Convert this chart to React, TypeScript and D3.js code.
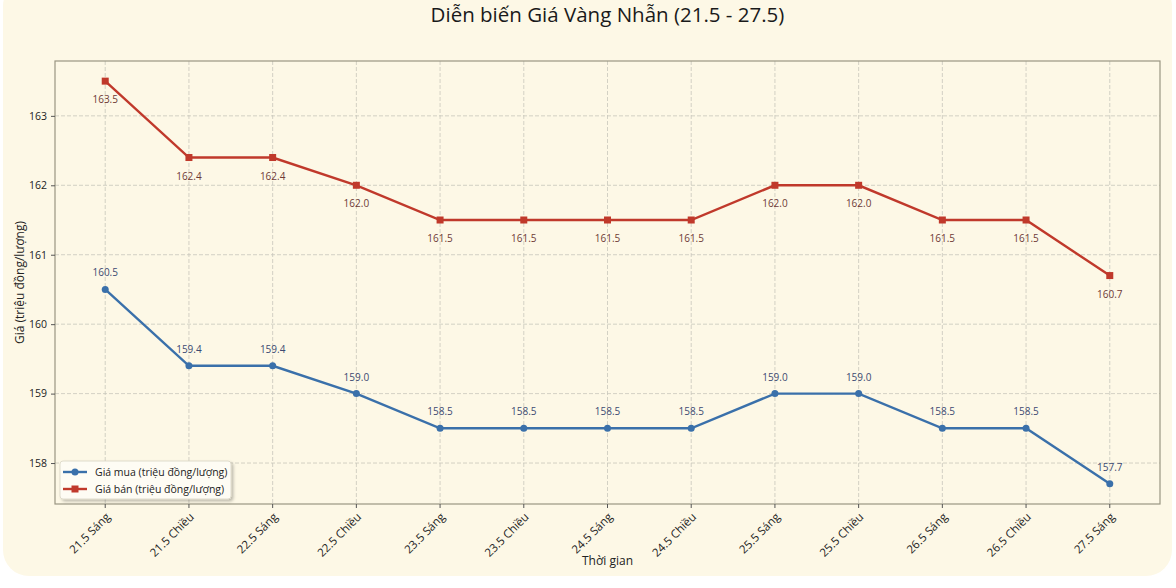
import { useRef, useEffect } from "react";
import * as d3 from "d3";

const categories = [
  "21.5 Sáng", "21.5 Chiều", "22.5 Sáng", "22.5 Chiều", "23.5 Sáng", "23.5 Chiều",
  "24.5 Sáng", "24.5 Chiều", "25.5 Sáng", "25.5 Chiều", "26.5 Sáng", "26.5 Chiều", "27.5 Sáng",
];
const buyPrices = [160.5, 159.4, 159.4, 159.0, 158.5, 158.5, 158.5, 158.5, 159.0, 159.0, 158.5, 158.5, 157.7];
const sellPrices = [163.5, 162.4, 162.4, 162.0, 161.5, 161.5, 161.5, 161.5, 162.0, 162.0, 161.5, 161.5, 160.7];
const yTicks = [158, 159, 160, 161, 162, 163];

const W = 1176;
const H = 588;
const FONT = "'Open Sans', 'Noto Sans', sans-serif";
const BLUE = "#3a70aa";
const RED = "#c0392b";

export default function App() {
  const svgRef = useRef<SVGSVGElement>(null);

  useEffect(() => {
    if (!svgRef.current) return;
    const svg = d3.select(svgRef.current);
    svg.selectAll("*").remove();

    const margin = { top: 61, right: 16, bottom: 84, left: 55 };
    const width = W - margin.left - margin.right;
    const height = H - margin.top - margin.bottom;

    // card background
    svg.append("rect").attr("width", W).attr("height", H).attr("fill", "#ffffff");
    svg.append("rect").attr("x", 3).attr("y", -20).attr("width", 1169).attr("height", 596)
      .attr("rx", 26).attr("fill", "#fdf8e6");

    const defs = svg.append("defs");
    const f = defs.append("filter").attr("id", "shadow").attr("x", "-10%").attr("y", "-20%").attr("width", "130%").attr("height", "160%");
    f.append("feDropShadow").attr("dx", 2).attr("dy", 2).attr("stdDeviation", 1.5).attr("flood-color", "#000").attr("flood-opacity", 0.25);

    const g = svg.append("g").attr("transform", `translate(${margin.left},${margin.top})`);

    const all = [...buyPrices, ...sellPrices];
    const lo = d3.min(all)!, hi = d3.max(all)!;
    const pad = (hi - lo) * 0.05;
    const y = d3.scaleLinear().domain([lo - pad, hi + pad]).range([height, 0]);
    const xl = d3.scaleLinear().domain([-0.6, categories.length - 1 + 0.6]).range([0, width]);
    const x = (i: number) => xl(i);

    // grid
    g.append("g").selectAll("line").data(yTicks).enter().append("line")
      .attr("x1", 0).attr("x2", width).attr("y1", d => y(d)).attr("y2", d => y(d))
      .attr("stroke", "#c8c6bb").attr("stroke-width", 0.8).attr("stroke-dasharray", "4,2");
    g.append("g").selectAll("line").data(categories).enter().append("line")
      .attr("y1", 0).attr("y2", height).attr("x1", (_, i) => x(i)).attr("x2", (_, i) => x(i))
      .attr("stroke", "#c8c6bb").attr("stroke-width", 0.8).attr("stroke-dasharray", "4,2");

    // frame
    g.append("rect").attr("width", width).attr("height", height)
      .attr("fill", "none").attr("stroke", "#9a9682").attr("stroke-width", 1.2);

    // y axis
    const ya = g.append("g").call(d3.axisLeft(y).tickValues(yTicks).tickSize(4).tickPadding(4).tickFormat(d3.format("d")));
    ya.select(".domain").remove();
    ya.selectAll("line").attr("stroke", "#555");
    ya.selectAll("text").attr("fill", "#222").attr("font-size", 10.5).attr("font-family", FONT);

    // x axis
    const xa = g.append("g").attr("transform", `translate(0,${height})`);
    categories.forEach((c, i) => {
      xa.append("line").attr("x1", x(i)).attr("x2", x(i)).attr("y1", 0).attr("y2", 4).attr("stroke", "#555");
      xa.append("text")
        .attr("transform", `translate(${x(i)},${8}) rotate(-45)`)
        .attr("text-anchor", "end").attr("dy", "0.7em")
        .attr("font-size", 11.5).attr("font-family", FONT).attr("fill", "#222")
        .text(c);
    });

    // lines
    const line = d3.line<number>().x((_, i) => x(i)).y(d => y(d));
    g.append("path").datum(buyPrices).attr("d", line).attr("fill", "none").attr("stroke", BLUE).attr("stroke-width", 2.4);
    g.append("path").datum(sellPrices).attr("d", line).attr("fill", "none").attr("stroke", RED).attr("stroke-width", 2.4);

    g.selectAll(".buy-pt").data(buyPrices).enter().append("circle")
      .attr("cx", (_, i) => x(i)).attr("cy", d => y(d)).attr("r", 3.5).attr("fill", BLUE);
    g.selectAll(".sell-pt").data(sellPrices).enter().append("rect")
      .attr("x", (_, i) => x(i) - 3.5).attr("y", d => y(d) - 3.5).attr("width", 7).attr("height", 7).attr("fill", RED);

    // value labels
    g.selectAll(".buy-lbl").data(buyPrices).enter().append("text")
      .attr("x", (_, i) => x(i)).attr("y", d => y(d) - 13)
      .attr("text-anchor", "middle").attr("font-size", 10).attr("font-family", FONT).attr("fill", "#3c4a72")
      .text(d => d.toFixed(1));
    g.selectAll(".sell-lbl").data(sellPrices).enter().append("text")
      .attr("x", (_, i) => x(i)).attr("y", d => y(d) + 22)
      .attr("text-anchor", "middle").attr("font-size", 10).attr("font-family", FONT).attr("fill", "#6e3a36")
      .text(d => d.toFixed(1));

    // legend
    const lg = g.append("g").attr("transform", `translate(5,${height - 43})`);
    lg.append("rect").attr("width", 171).attr("height", 38).attr("rx", 3)
      .attr("fill", "#fefcf4").attr("stroke", "#d8d4c4").attr("stroke-width", 0.8).attr("filter", "url(#shadow)");
    [{ c: BLUE, t: "Giá mua (triệu đồng/lượng)", m: "circle" }, { c: RED, t: "Giá bán (triệu đồng/lượng)", m: "square" }]
      .forEach((it, i) => {
        const row = lg.append("g").attr("transform", `translate(0,${11 + i * 17})`);
        row.append("line").attr("x1", 3).attr("x2", 27).attr("stroke", it.c).attr("stroke-width", 2.4);
        if (it.m === "circle") row.append("circle").attr("cx", 15).attr("r", 3.5).attr("fill", it.c);
        else row.append("rect").attr("x", 11.5).attr("y", -3.5).attr("width", 7).attr("height", 7).attr("fill", it.c);
        row.append("text").attr("x", 35).attr("dy", "0.35em").attr("font-size", 10.5).attr("font-family", FONT)
          .attr("fill", "#222").text(it.t);
      });

    // titles
    svg.append("text").attr("x", margin.left + width / 2).attr("y", 22).attr("text-anchor", "middle")
      .attr("font-size", 20.5).attr("font-family", FONT).attr("fill", "#1a1a1a").text("Diễn biến Giá Vàng Nhẫn (21.5 - 27.5)");
    svg.append("text").attr("x", margin.left + width / 2).attr("y", 565).attr("text-anchor", "middle")
      .attr("font-size", 12).attr("font-family", FONT).attr("fill", "#222").text("Thời gian");
    svg.append("text").attr("transform", `translate(24,${margin.top + height / 2}) rotate(-90)`).attr("text-anchor", "middle")
      .attr("font-size", 12).attr("font-family", FONT).attr("fill", "#222").text("Giá (triệu đồng/lượng)");
  }, []);

  return (
    <svg ref={svgRef} width={W} height={H}
      style={{ position: "absolute", left: 0, top: 0, display: "block" }} />
  );
}
